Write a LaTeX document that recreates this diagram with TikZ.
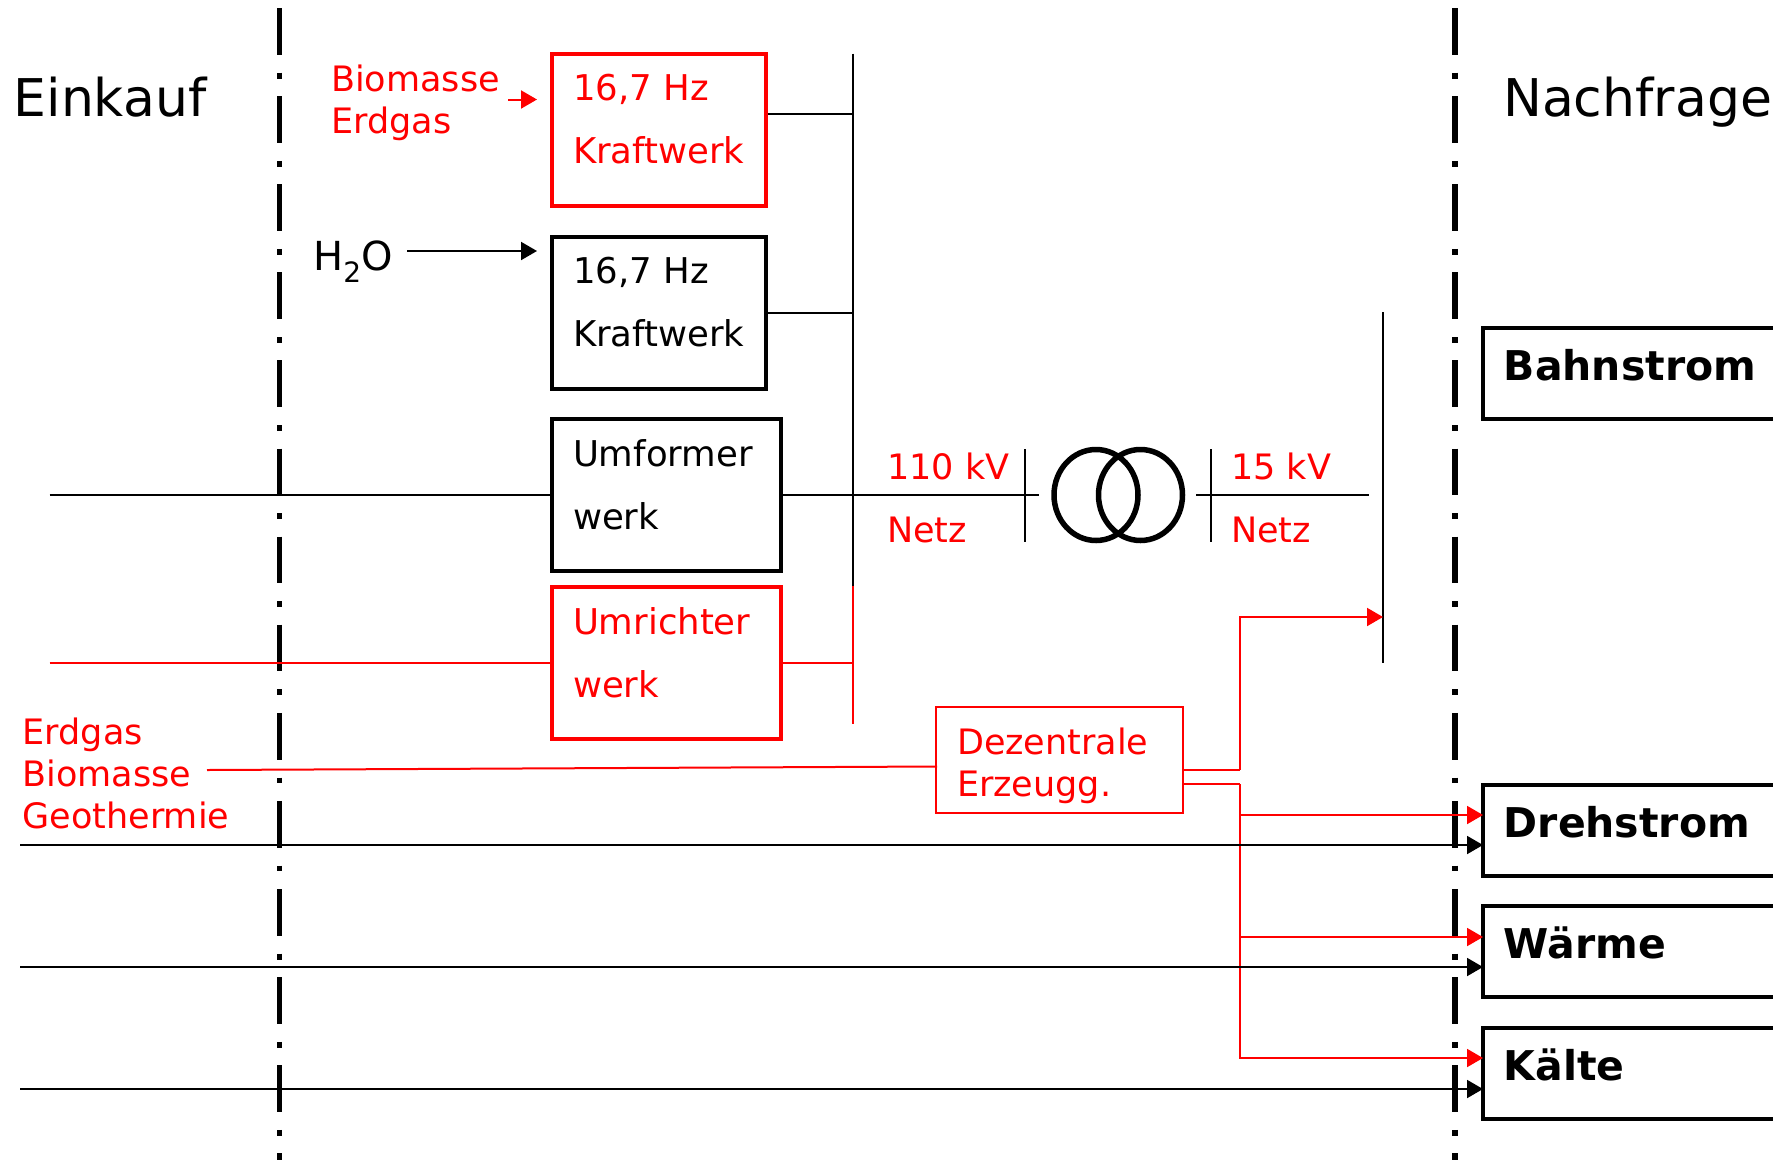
\documentclass[tikz,border=0pt]{standalone}
\usepackage{fontspec}
\setmainfont{DejaVu Sans}
\usetikzlibrary{arrows.meta,shapes.geometric}
\definecolor{netred}{RGB}{255,0,0}
\tikzset{
  txt/.style    = {anchor=base west,align=left,inner sep=0pt,font=\fontsize{35}{42}\selectfont},
  title/.style  = {anchor=base west,inner sep=0pt,font=\fontsize{52}{60}\selectfont},
  plant/.style  = {draw,line width=4pt,anchor=north west,align=left,inner xsep=21pt,inner ysep=0pt,
                   text height=47pt,text depth=105pt,font=\fontsize{35.5}{63}\selectfont},
  demand/.style = {draw,line width=3.5pt,anchor=north west,align=left,inner xsep=21pt,inner ysep=0pt,
                   text width=300pt,text height=53pt,text depth=38pt,font=\bfseries\fontsize{41}{48}\selectfont},
  cut/.style    = {line width=5.7pt,dash pattern=on 46.7pt off 18pt on 5.8pt off 17.6pt},
  wire/.style   = {line width=2pt},
  arr/.style    = {line width=2pt,-{Triangle[length=16pt,width=18pt]}},
  boxarr/.style = {arr,shorten >=-2pt},
  trafo/.style  = {draw,ellipse,line width=5.5pt,minimum width=84pt,minimum height=91pt,inner sep=0pt},
}
\begin{document}
\begin{tikzpicture}[x=1pt,y=-1pt]
  \useasboundingbox (0,0) rectangle (1773,1160);
  \clip (0,0) rectangle (1773,1160);

  % system borders
  \coordinate (cuta) at (279.5,8);
  \coordinate (cutb) at (1455,8);
  \draw[cut] (cuta) -- (cuta |- 0,1160);
  \draw[cut] (cutb) -- (cutb |- 0,1160);

  \node[title] (einkauf)   at (13.5,116) {Einkauf};
  \node[title] (nachfrage) at (1503,116) {Nachfrage};

  % plants
  \node[plant,netred,text width=172pt] (kwred) at (550,51.5)  {16,7 Hz\\Kraftwerk};
  \node[plant,text width=172pt]        (kwh)   at (550,234.5) {16,7 Hz\\Kraftwerk};
  \node[plant,text width=187pt]        (umf)   at (550,417)   {Umformer\\werk};
  \node[plant,netred,text width=187pt] (umr)   at (550,585)   {Umrichter\\werk};

  \node[txt,netred] (bio) at (331,133) {Biomasse\\Erdgas};
  \node[txt,font=\fontsize{40}{48}\selectfont] (hzo) at (313,270) {H\textsubscript{2}O};
  \coordinate (bioin) at (508,99.5);
  \coordinate (hzoin) at (407,251);
  \draw[arr,netred] (bioin) -- ++(29,0);
  \draw[arr]        (hzoin) -- ++(130,0);

  % 110 kV side
  \coordinate (bustop) at (852.5,53.5);
  \coordinate (busmid) at (852.5,586);
  \coordinate (busend) at (852.5,724);
  \draw[wire] (bustop) -- (busmid);
  \draw[wire,netred] (busmid) -- (busend);
  \coordinate (bus1) at (852.5,114);
  \coordinate (bus2) at (852.5,312.5);
  \coordinate (lina) at (49.5,495);
  \coordinate (linb) at (49.5,663);
  \draw[wire] (kwred.east |- bus1) -- (bus1);
  \draw[wire] (kwh.east |- bus2) -- (bus2);
  \draw[wire] (lina) -- (umf.west |- lina);
  \draw[wire,netred] (linb) -- (umr.west |- linb);
  \draw[wire,netred] (umr.east |- linb) -- (linb -| bus1);

  \node[trafo] (tra) at (1096,495) {};
  \node[trafo] (trb) at (1140.5,495) {};
  \coordinate (hva) at (1039,495);
  \coordinate (lva) at (1196,495);
  \coordinate (lvb) at (1369,495);
  \draw[wire] (umf.east |- hva) -- (hva);
  \draw[wire] (lva) -- (lvb);
  \draw[wire] (1025,449) -- (1025,542);
  \draw[wire] (1211,449) -- (1211,542);
  \node[txt,netred,font=\fontsize{35}{63}\selectfont] (hvtxt) at (887,542)  {110 kV\\Netz};
  \node[txt,netred,font=\fontsize{35}{63}\selectfont] (lvtxt) at (1231,542) {15 kV\\Netz};

  % 15 kV bus
  \coordinate (lvtop) at (1383,312);
  \coordinate (lvend) at (1383,663);
  \draw[wire] (lvtop) -- (lvend);

  % demand
  \node[demand] (bahn) at (1481,326)  {Bahnstrom};
  \node[demand] (dreh) at (1481,783)  {Drehstrom};
  \node[demand] (waer) at (1481,904)  {Wärme};
  \node[demand] (kaelte) at (1481,1026) {Kälte};

  % decentral units
  \node[txt,netred] (fuel) at (22.5,828) {Erdgas\\Biomasse\\Geothermie};
  \node[draw,netred,line width=2.2pt,anchor=north west,align=left,inner xsep=21pt,inner ysep=0pt,
        text width=205pt,text height=47pt,text depth=59pt,font=\fontsize{35}{42}\selectfont]
        (dez) at (935,706) {Dezentrale\\Erzeugg.};
  \coordinate (fuelout) at (207,770);
  \coordinate (dezin) at (937,766.5);
  \draw[wire,netred] (fuelout) -- (dezin);

  \coordinate (outa) at (1240,769.5);
  \coordinate (outb) at (1240,784);
  \draw[wire,netred] (dez.east |- outa) -- (outa);
  \draw[wire,netred] (dez.east |- outb) -- (outb);
  \draw[arr,netred] (outa) -- (outa |- 0,617) -- (lvend |- 0,617);
  \draw[boxarr,netred] (outb) -- (outb |- 0,1058) -- (kaelte.west |- 0,1058);
  \foreach \y/\n in {815/dreh,937/waer}
    \draw[boxarr,netred] (outb |- 0,\y) -- (\n.west |- 0,\y);

  % external supply
  \foreach \y/\n in {845/dreh,967/waer,1089/kaelte} {
    \coordinate (in\n) at (20,\y);
    \draw[boxarr] (in\n) -- (in\n -| \n.west);
  }
\end{tikzpicture}
\end{document}
